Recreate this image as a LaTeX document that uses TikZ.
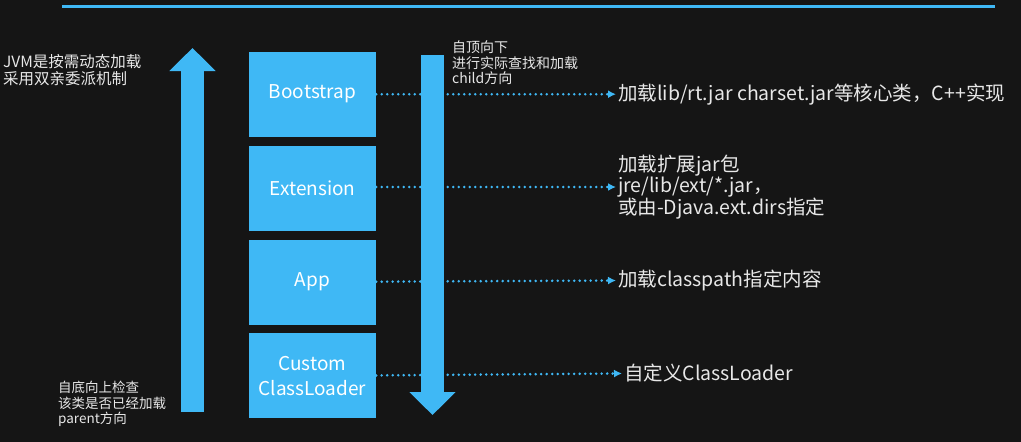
\documentclass[tikz,border=0pt]{standalone}
\usepackage{fontspec}
\setmainfont{Noto Sans CJK SC}
\usetikzlibrary{positioning, arrows.meta}
\definecolor{chalkbg}{HTML}{151515}
\definecolor{loaderblue}{HTML}{3FB8F5}
\definecolor{chalktext}{HTML}{E8E8E8}

\begin{document}
\begin{tikzpicture}[x=1pt, y=-1pt,
            loader/.style={rectangle, fill=loaderblue, minimum width=127pt, minimum height=85pt,
                           inner sep=0pt, text=white, font=\fontsize{19}{25}\selectfont, align=center},
            flow/.style={draw=loaderblue, line width=23pt, -{Triangle[width=45pt, length=23pt]}},
            hint/.style={text=chalktext, font=\fontsize{19.5}{21.5}\selectfont, align=left, inner sep=2pt},
            note/.style={text=chalktext, align=left, inner sep=0pt},
            dotlink/.style={draw=loaderblue, line width=2.8pt, dash pattern=on 0pt off 5.5pt,
                            line cap=round, -{Latex[length=8pt, width=8pt]}},
            node distance=8.5pt,
        ]
            % Chalkboard background
            \fill[chalkbg] (0,0) rectangle (1021,442);
            \useasboundingbox (0,0) rectangle (1021,442);
            \coordinate (rulerL) at (62,6);
            \coordinate (rulerR) at (995,6);
            \draw[loaderblue, line width=3pt] (rulerL) -- (rulerR);

            % Loader stack
            \node[loader] (boot) at (312.5,94.2) {Bootstrap};
            \node[loader, below=of boot]   (ext)    {Extension};
            \node[loader, below=of ext]    (app)    {App};
            \node[loader, below=of app]    (custom) {Custom\\ClassLoader};

            % What each loader reads
            \node[hint, anchor=west] (bootHint)   at (616,94.2)  {加载lib/rt.jar charset.jar等核心类，C++实现};
            \node[hint, anchor=west] (extHint)    at (616,187)   {加载扩展jar包\\jre/lib/ext/*.jar，\\或由-Djava.ext.dirs指定};
            \node[hint, anchor=west] (appHint)    at (616,280)   {加载classpath指定内容};
            \node[hint, anchor=west] (customHint) at (622,372.8) {自定义ClassLoader};

            \draw[dotlink] (boot)   -- (bootHint);
            \draw[dotlink] (ext.east |- extHint.west) -- (extHint);
            \draw[dotlink] (app)    -- (appHint);
            \draw[dotlink] (custom) -- (customHint);

            % Delegation directions
            \coordinate (upFoot)  at (192.5,412);
            \coordinate (upTip)   at (192.5,48);
            \coordinate (downTop) at (432.5,55);
            \coordinate (downTip) at (432.5,415);
            \draw[flow] (upFoot) -- (upTip);
            \draw[flow] (downTop) -- (downTip);

            % Side notes
            \node[note, anchor=north west, font=\fontsize{15.5}{17}\selectfont] (jvmNote) at (3,54)
                {JVM是按需动态加载\\采用双亲委派机制};
            \node[note, anchor=north west, font=\fontsize{13.5}{15.5}\selectfont] (parentNote) at (58,381)
                {自底向上检查\\该类是否已经加载\\parent方向};
            \node[note, anchor=north west, font=\fontsize{14}{15.5}\selectfont] (childNote) at (452,41)
                {自顶向下\\进行实际查找和加载\\child方向};
        \end{tikzpicture}
\end{document}
